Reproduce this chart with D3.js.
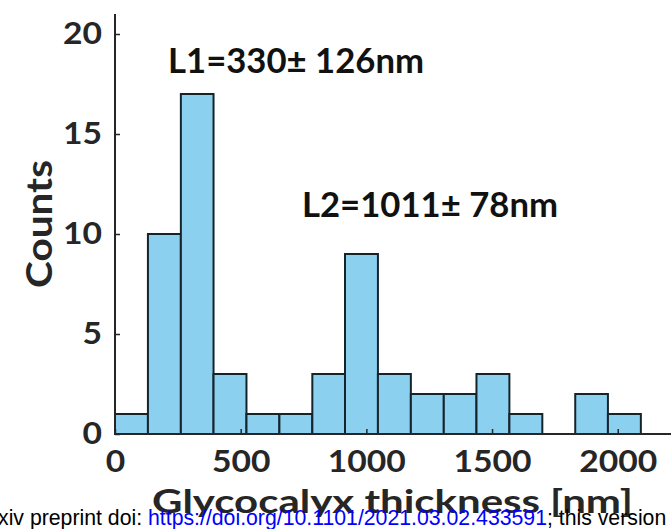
<!DOCTYPE html>
<html><head><meta charset="utf-8">
<script src="https://cdn.jsdelivr.net/npm/d3@7"></script>
<style>html,body{margin:0;padding:0;background:#fff;overflow:hidden}</style>
</head><body>
<svg id="c" width="671" height="529"></svg>
<script>
const binEdges = [0,131,262,392,523,654,785,915,1046,1177,1308,1438,1569,1700,1831,1961,2092];
const counts = [1,10,17,3,1,1,3,9,3,2,2,3,1,0,2,1];
const xTicks = [0,500,1000,1500,2000];
const yTicks = [0,5,10,15,20];
const annotations = [
  {text:"L1=330\u00b1 126nm", x:211, y:18.05},
  {text:"L2=1011\u00b1 78nm", x:744, y:10.85}
];
const bins = counts.map((c,i)=>({x0:binEdges[i], x1:binEdges[i+1], n:c}));

const svg = d3.select("#c");
const x = d3.scaleLinear().domain([0,2200]).range([115,668]);
const y = d3.scaleLinear().domain([0,21]).range([434,14]);
const axisCol = "#262626";
const font = "Lato, 'Open Sans', sans-serif";

// bars
svg.append("g").selectAll("rect").data(bins.filter(d=>d.n>0)).join("rect")
  .attr("x", d=>x(d.x0)).attr("width", d=>x(d.x1)-x(d.x0))
  .attr("y", d=>y(d.n)).attr("height", d=>y(0)-y(d.n))
  .attr("fill","#8bd0ef").attr("stroke","#15232b").attr("stroke-width",2);

// axes
const xAxis = d3.axisBottom(x).tickValues(xTicks).tickFormat(d3.format("d"))
  .tickSizeInner(-5).tickSizeOuter(0).tickPadding(16);
const gx = svg.append("g").attr("transform",`translate(0,${y(0)})`).call(xAxis);
const yAxis = d3.axisLeft(y).tickValues(yTicks).tickFormat(d3.format("d"))
  .tickSizeInner(-5).tickSizeOuter(0).tickPadding(13);
const gy = svg.append("g").attr("transform",`translate(${x(0)},0)`).call(yAxis);
[gx,gy].forEach(g=>{
  g.select(".domain").attr("stroke",axisCol).attr("stroke-width",2);
  g.selectAll(".tick line").attr("stroke",axisCol).attr("stroke-width",1.5);
  g.selectAll(".tick text").attr("fill",axisCol).attr("font-family",font)
   .attr("font-weight","bold").attr("font-size",31)
   .attr("textLength", d=>String(d).length*19.5).attr("lengthAdjust","spacingAndGlyphs");
});
gx.selectAll(".tick text").attr("dy","0.71em");
gx.select(".domain").attr("d",`M${x(0)},0H671`);
gy.select(".domain").attr("d",`M0,${y(0)}V${y(21)}`);

// annotations
svg.append("g").selectAll("text").data(annotations).join("text")
  .attr("x", d=>x(d.x)).attr("y", d=>y(d.y))
  .attr("text-anchor","start").attr("font-family",font).attr("font-weight","bold")
  .attr("font-size",34).attr("fill","#111")
  .attr("textLength",256).attr("lengthAdjust","spacingAndGlyphs").text(d=>d.text);

// axis labels
svg.append("text").attr("transform",`translate(52,224) rotate(-90)`)
  .attr("text-anchor","middle").attr("font-family",font).attr("font-weight","bold")
  .attr("font-size",37).attr("fill",axisCol)
  .attr("textLength",128).attr("lengthAdjust","spacingAndGlyphs").text("Counts");
svg.append("text").attr("x",392.5).attr("y",513)
  .attr("text-anchor","middle").attr("font-family",font).attr("font-weight","bold")
  .attr("font-size",32).attr("fill",axisCol)
  .attr("textLength",481).attr("lengthAdjust","spacingAndGlyphs").text("Glycocalyx thickness [nm]");

// footer overlay (page footer with white band)
svg.append("rect").attr("x",0).attr("y",517).attr("width",671).attr("height",12).attr("fill","#fff");
const ft = svg.append("text").attr("x",-2).attr("y",525)
  .attr("font-family","'Liberation Sans', Arial, sans-serif").attr("font-size",21.25).attr("fill","#000");
ft.append("tspan").text("xiv preprint doi: ");
ft.append("tspan").attr("fill","#0000ff").text("https://doi.org/10.1101/2021.03.02.433591");
ft.append("tspan").text("; this version");
</script>
</body></html>
